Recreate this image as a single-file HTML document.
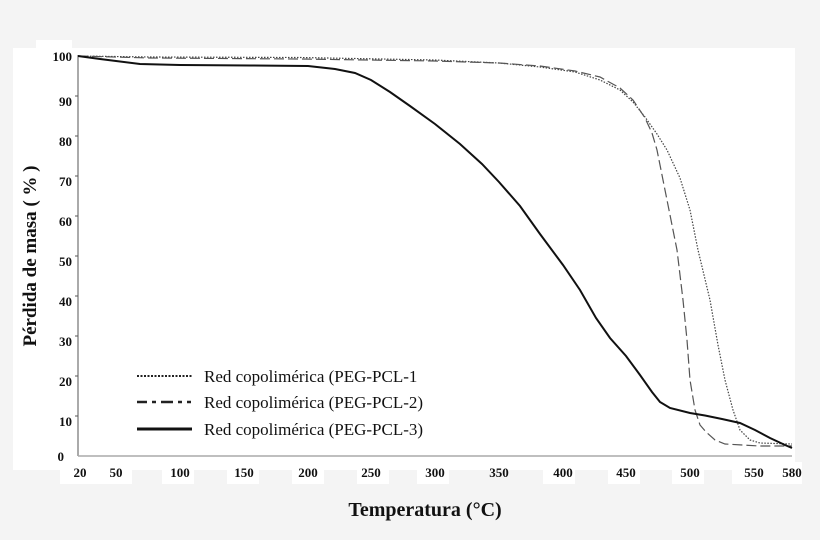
<!DOCTYPE html>
<html><head><meta charset="utf-8"><style>
html,body{margin:0;padding:0;background:#f4f4f4;}
svg{display:block;font-family:"Liberation Serif",serif;}
</style></head><body>
<svg width="820" height="540" viewBox="0 0 820 540" xmlns="http://www.w3.org/2000/svg">
<rect width="820" height="540" fill="#f4f4f4"/>
<rect x="13" y="48" width="782" height="422" fill="#fff"/>
<rect x="36" y="40" width="36" height="20" fill="#fff"/>
<rect x="60" y="456" width="735" height="14" fill="#fff"/>
<rect x="60" y="462" width="72" height="22" fill="#fff"/>
<rect x="162" y="462" width="32" height="22" fill="#fff"/>
<rect x="227" y="462" width="32" height="22" fill="#fff"/>
<rect x="292" y="462" width="32" height="22" fill="#fff"/>
<rect x="357" y="462" width="32" height="22" fill="#fff"/>
<rect x="417" y="462" width="32" height="22" fill="#fff"/>
<rect x="543" y="462" width="32" height="22" fill="#fff"/>
<rect x="608" y="462" width="32" height="22" fill="#fff"/>
<rect x="672" y="462" width="32" height="22" fill="#fff"/>
<rect x="732" y="462" width="70" height="22" fill="#fff"/>
<g font-weight="bold" font-size="13" text-anchor="end" fill="#111">
<text x="72" y="61">100</text><text x="72" y="106">90</text><text x="72" y="146">80</text>
<text x="72" y="186">70</text><text x="72" y="226">60</text><text x="72" y="266">50</text>
<text x="72" y="306">40</text><text x="72" y="346">30</text><text x="72" y="386">20</text>
<text x="72" y="426">10</text><text x="64" y="461">0</text>
</g>
<g font-weight="bold" font-size="13" text-anchor="middle" fill="#111">
<text x="80" y="477">20</text><text x="116" y="477">50</text><text x="180" y="477">100</text>
<text x="244" y="477">150</text><text x="308" y="477">200</text><text x="371" y="477">250</text>
<text x="435" y="477">300</text><text x="499" y="477">350</text><text x="563" y="477">400</text>
<text x="626" y="477">450</text><text x="690" y="477">500</text><text x="754" y="477">550</text>
<text x="792" y="477">580</text>
</g>
<text x="425" y="516" font-weight="bold" font-size="20" text-anchor="middle" fill="#111">Temperatura (°C)</text>
<text transform="translate(36,256) rotate(-90)" font-weight="bold" font-size="19" text-anchor="middle" fill="#111">Pérdida de masa ( % )</text>
<line x1="78" y1="55" x2="78" y2="456" stroke="#555" stroke-width="1"/>
<line x1="78" y1="456" x2="792" y2="456" stroke="#aaa" stroke-width="1.5"/>
<g stroke="#555"><line x1="75" y1="96" x2="78" y2="96"/><line x1="75" y1="136" x2="78" y2="136"/><line x1="75" y1="176" x2="78" y2="176"/><line x1="75" y1="216" x2="78" y2="216"/><line x1="75" y1="256" x2="78" y2="256"/><line x1="75" y1="296" x2="78" y2="296"/><line x1="75" y1="336" x2="78" y2="336"/><line x1="75" y1="376" x2="78" y2="376"/><line x1="75" y1="416" x2="78" y2="416"/></g>
<!-- dotted PEG-PCL-1 -->
<path d="M78,56 L150,57 L300,57.5 L435,60 L499,63 L540,67 L575,72 L600,80 L620,90 L633,102 L645,117 L657,134 L667,150 L680,178 L690,210 L698,250 L710,300 L718,345 L725,380 L733,410 L740,430 L750,440 L760,443 L792,444" fill="none" stroke="#444" stroke-width="1.2" stroke-dasharray="1.5,1.5"/>
<!-- dashed PEG-PCL-2 -->
<path d="M78,56 L150,58 L300,59 L435,61 L499,63 L540,66 L575,71 L600,77 L620,88 L633,100 L645,118 L652,133 L657,150 L663,180 L670,215 L677,250 L683,300 L687,340 L690,380 L695,410 L700,425 L706,432 L715,440 L725,444 L760,446 L792,446" fill="none" stroke="#555" stroke-width="1.2" stroke-dasharray="10,4"/>
<!-- solid PEG-PCL-3 -->
<path d="M78,56 L100,59 L116,61 L140,64 L180,65 L250,65.5 L308,66 L335,69 L355,73 L371,80 L390,92 L410,106 L435,124 L460,144 L482,164 L499,182 L520,206 L540,234 L563,265 L580,290 L596,318 L610,338 L626,356 L640,375 L652,392 L660,402 L670,408 L690,413 L705,415.5 L722,419 L740,423 L755,430 L770,438 L785,445 L792,448" fill="none" stroke="#111" stroke-width="2"/>
<!-- legend -->
<line x1="137" y1="376" x2="192" y2="376" stroke="#222" stroke-width="2" stroke-dasharray="2,1.5"/>
<path d="M137,402 h10 m5,0 h4 m5,0 h12 m5,0 h4 m5,0 h4" stroke="#222" stroke-width="2.5"/>
<line x1="137" y1="429" x2="192" y2="429" stroke="#111" stroke-width="3"/>
<g font-size="17" fill="#111">
<text x="204" y="382">Red copolimérica (PEG-PCL-1</text>
<text x="204" y="408">Red copolimérica (PEG-PCL-2)</text>
<text x="204" y="435">Red copolimérica (PEG-PCL-3)</text>
</g>
</svg>
</body></html>
